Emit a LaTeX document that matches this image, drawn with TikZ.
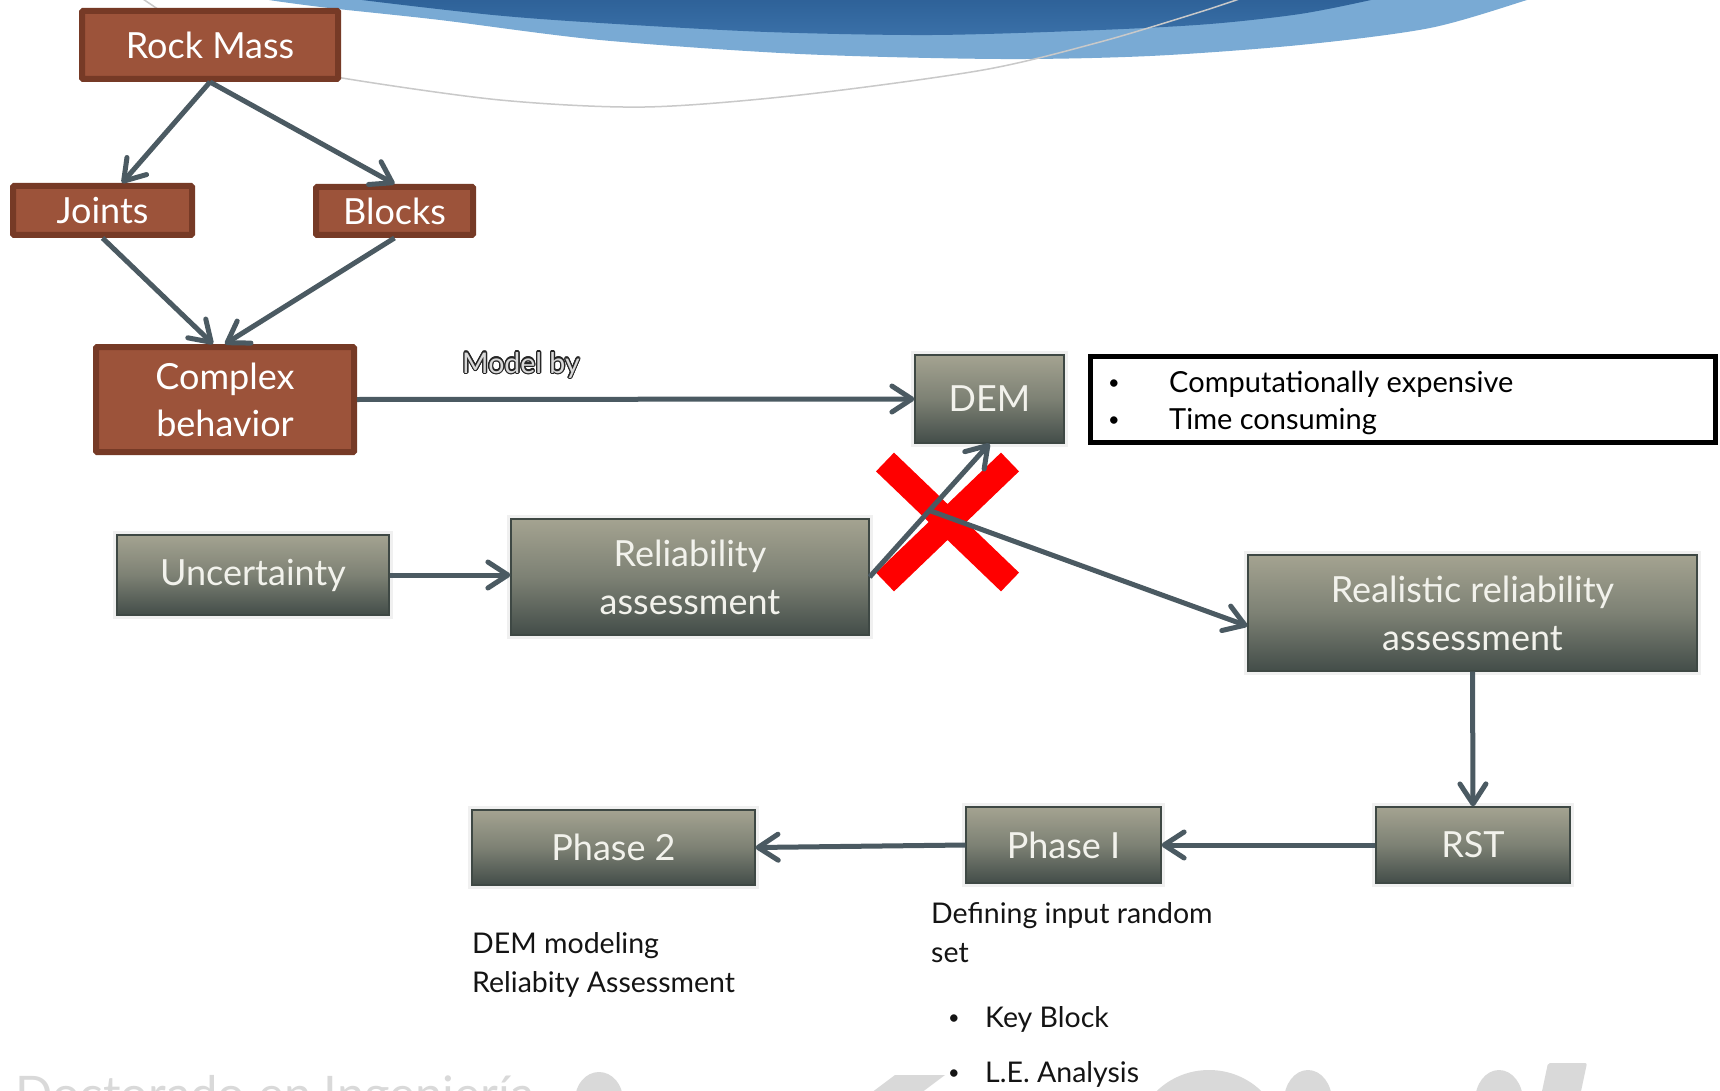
\documentclass[tikz,border=0pt]{standalone}
\usepackage{fontspec}
\setmainfont{Lato}
\usepackage{contour}
\contourlength{1.2pt}
\usetikzlibrary{arrows.meta,calc}
\definecolor{brownF}{HTML}{9C533A}
\definecolor{brownB}{HTML}{763A26}
\definecolor{gtop}{HTML}{A4A391}
\definecolor{gmid}{HTML}{7D8174}
\definecolor{gbot}{HTML}{434D49}
\definecolor{gline}{HTML}{3E4844}
\definecolor{gtext}{HTML}{F2F2EC}
\definecolor{arrowc}{HTML}{4B5A62}
\definecolor{bluedark}{HTML}{3A70A8}
\definecolor{bluetop}{HTML}{285A90}
\definecolor{bluelight}{HTML}{79AAD4}
\definecolor{wmc}{HTML}{D9D9D9}
\definecolor{curvec}{HTML}{C9C9C9}
\begin{document}
\begin{tikzpicture}[x=1pt,y=-1pt,
  brownbox/.style={draw=brownB, fill=brownF, line width=6pt, text=white,
    font=\fontsize{36}{47}\selectfont, inner sep=0pt, align=center, rounded corners=1pt},
  graybox/.style={draw=gline, line width=1.2pt, top color=gtop, bottom color=gbot,
    middle color=gmid, text=gtext, font=\fontsize{36}{48}\selectfont, align=center,
    inner sep=0pt, preaction={draw=black!6, line width=8pt}},
  conn/.style={draw=arrowc, line width=5pt, -{Straight Barb[length=20pt,width=26pt,round]}},
  notetxt/.style={anchor=base west, inner sep=0pt, font=\fontsize{29}{34}\selectfont},
  notebul/.style={anchor=base, inner sep=0pt, font=\fontsize{20}{24}\selectfont},
  txt/.style={anchor=base west, inner sep=0pt, font=\fontsize{28.5}{32}\selectfont, text=black!92},
  txtbul/.style={anchor=base, inner sep=0pt, font=\fontsize{20}{24}\selectfont, text=black!92}
]
\path[use as bounding box] (0,0) rectangle (1720,1091);
\clip (0,0) rectangle (1720,1091);
\fill[white] (0,0) rectangle (1720,1091);

% banner
\fill[bluelight] plot[smooth] coordinates {(262,-3) (269,0) (329,8) (440,20) (600,40) (800,54) (1000,59) (1150,56) (1300,45) (1430,28) (1527,0) (1534,-3)} -- (1534,-20) -- (262,-20) -- cycle;
\shade[top color=bluetop, bottom color=bluedark] plot[smooth] coordinates {(355,-3) (362,0) (493,15) (600,23) (767,32) (933,35) (1100,30) (1210,24) (1300,14) (1371,0) (1378,-3)} -- (1378,-20) -- (355,-20) -- cycle;
\draw[curvec, line width=1.5pt] plot[smooth] coordinates {(140,-3) (200,35) (270,62) (342,78) (500,100) (645,107) (800,95) (983,70) (1100,42) (1200,12) (1245,-3)};

% watermark
\node[anchor=base west, inner sep=0pt, text=wmc, font=\fontsize{49}{49}\selectfont] (wmtext) at (15,1111) {Doctorado en Ingeniería};
\fill[wmc] (599,1100) ellipse [x radius=24, y radius=28];
\fill[wmc] (895,1075) -- (945,1075) -- (921,1093) -- (871,1093) -- cycle;
\fill[wmc] (1209,1142) ellipse [x radius=74, y radius=72];
\fill[wmc] (1308,1101) ellipse [x radius=24, y radius=31];
\fill[wmc] (1499,1101) ellipse [x radius=24, y radius=31];
\fill[wmc, rounded corners=2pt] (1541,1096) -- (1548,1063) -- (1587,1063) -- (1580,1096) -- cycle;

% brown nodes
\node[brownbox, minimum width=256pt, minimum height=68pt] (rock) at (210,45) {Rock Mass};
\node[brownbox, minimum width=179pt, minimum height=49pt] (joints) at (102.5,210.5) {Joints};
\node[brownbox, minimum width=157pt, minimum height=48pt] (blocks) at (394.5,211) {Blocks};
\node[brownbox, minimum width=258pt, minimum height=105pt] (complex) at (225,399.5) {Complex\\behavior};

% gray nodes
\node[graybox, minimum width=149pt, minimum height=88pt] (dem) at (989.5,399) {DEM};
\node[graybox, minimum width=272pt, minimum height=80pt] (unc) at (253,575) {Uncertainty};
\node[graybox, minimum width=358pt, minimum height=116pt] (rel) at (690,577) {Reliability\\assessment};
\node[graybox, minimum width=449pt, minimum height=116pt] (real) at (1472.5,613) {Realistic reliability\\assessment};
\node[graybox, minimum width=194pt, minimum height=76pt] (rst) at (1473,845) {RST};
\node[graybox, minimum width=195pt, minimum height=76pt] (ph1) at (1063.5,845) {Phase I};
\node[graybox, minimum width=283pt, minimum height=75pt] (ph2) at (613.5,847.5) {Phase 2};

% note box
\node[draw=black, line width=5pt, minimum width=625pt, minimum height=86pt] (note) at (1403,399.5) {};
\node[notebul] (b1) at (1114,389) {•};
\node[notetxt] (t1) at (1169,392) {Computationally expensive};
\node[notebul] (b2) at (1114,426) {•};
\node[notetxt] (t2) at (1169,429) {Time consuming};

% label
\node[anchor=base west, inner sep=0pt, font=\fontsize{28.5}{30}\selectfont] (model) at (462,373) {\contour{black!85}{\textcolor{white!85!black}{Model by}}};

% texts
\node[txt] (def) at (931,923) {Defining input random};
\node[txt] (set) at (931,962) {set};
\node[txt] (demmod) at (472,953) {DEM modeling};
\node[txt] (relas) at (472,992) {Reliabity Assessment};
\node[txtbul] (kb) at (954,1024) {•};
\node[txt] (kbt) at (985,1027) {Key Block};
\node[txtbul] (le) at (954,1079) {•};
\node[txt] (let) at (985,1082) {L.E. Analysis};

% connectors
\draw[conn] (rock.south) -- ($(joints.north)+(19.5,0)$);
\draw[conn] (rock.south) -- (blocks.north);
\draw[conn] (joints.south) -- ($(complex.north)+(-12,0)$);
\draw[conn] (blocks.south) -- (complex.north);
\draw[conn] (complex.east) -- (dem.west);
\draw[conn] (unc.east) -- (unc.east -| rel.west);

% red cross
\draw[red, line width=26pt] (885,462) -- (1010,582);
\draw[red, line width=26pt] (1010,462) -- (885,582);

\draw[conn] (rel.east) -- (dem.south);
\coordinate (xc) at (928,510);
\draw[conn] (xc) -- ($(real.west)+(0,13)$);
\draw[conn] (real.south) -- (rst.north);
\draw[conn] (rst.west) -- (ph1.east);
\draw[conn] (ph1.west) -- (ph2.east);
\end{tikzpicture}
\end{document}
